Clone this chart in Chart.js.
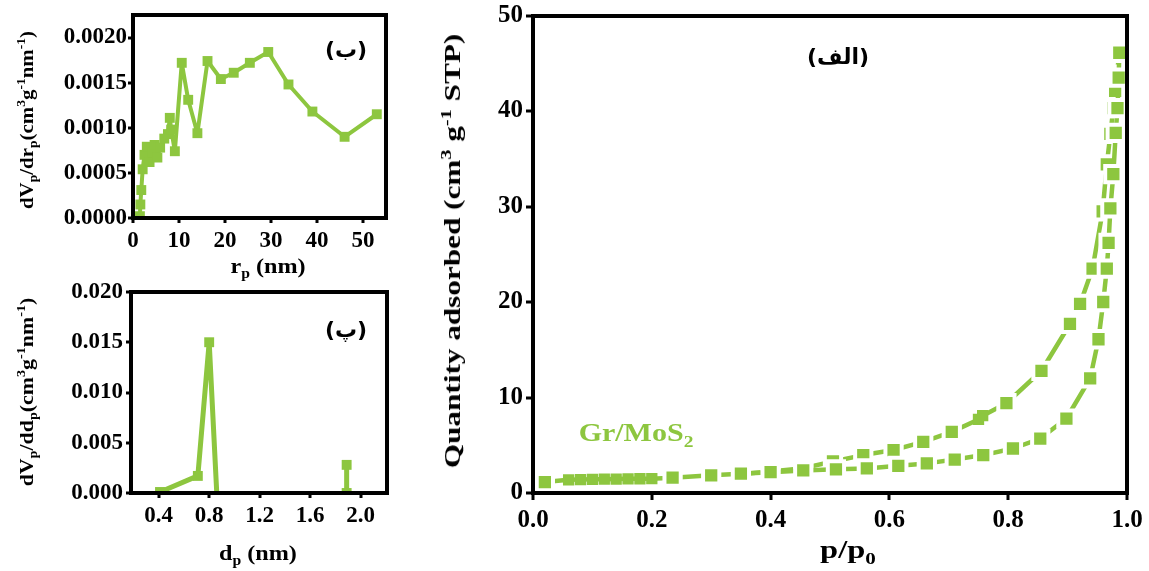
<!DOCTYPE html>
<html>
<head>
<meta charset="utf-8">
<script src="https://cdn.jsdelivr.net/npm/chart.js@4.4.1/dist/chart.umd.min.js"></script>
<style>
    body { margin: 0; background: #fff; width: 1149px; height: 571px; position: relative; overflow: hidden; }
    canvas { position: absolute; }
    .lbl { position: absolute; white-space: nowrap; font-family: "Times New Roman", "Liberation Serif", Times, serif; font-weight: bold; line-height: 1; color: #000; }
    .lbl sub, .lbl sup { font-size: 65%; line-height: 0; }
    .c { transform: translate(-50%, -50%) scaleX(var(--sx, 1)); }
    .rot { transform: translate(-50%, -50%) rotate(-90deg) scaleX(var(--sx, 1)); }
    .fa { font-family: "DejaVu Sans", sans-serif; }
</style>
</head>
<body>
<canvas id="rpChart" width="400" height="280" style="left:0;top:0"></canvas>
<canvas id="dpChart" width="400" height="291" style="left:0;top:280px"></canvas>
<canvas id="isoChart" width="729" height="571" style="left:420px;top:0"></canvas>

<div class="lbl rot" style="left:26px;top:120px;font-size:19px;--sx:1.1">dV<sub>p</sub>/dr<sub>p</sub>(cm<sup>3</sup>g<sup>-1</sup>nm<sup>-1</sup>)</div>
<div class="lbl c" style="left:268px;top:266px;font-size:21px;--sx:1.15">r<sub>p</sub> (nm)</div>
<div class="lbl c fa" style="left:346px;top:50px;font-size:22px">(ب)</div>

<div class="lbl rot" style="left:26px;top:392px;font-size:19px;--sx:1.15">dV<sub>p</sub>/dd<sub>p</sub>(cm<sup>3</sup>g<sup>-1</sup>nm<sup>-1</sup>)</div>
<div class="lbl c" style="left:258px;top:553px;font-size:21px;--sx:1.15">d<sub>p</sub> (nm)</div>
<div class="lbl c fa" style="left:346px;top:330px;font-size:22px">(پ)</div>

<div class="lbl rot" style="left:452px;top:251px;font-size:24px;--sx:1.3">Quantity adsorbed (cm<sup>3</sup> g<sup>-1</sup> STP)</div>
<div class="lbl c" style="left:848px;top:550px;font-size:26px;--sx:1.25">p/p<sub>0</sub></div>
<div class="lbl c fa" style="left:838px;top:57px;font-size:22px">(الف)</div>
<div class="lbl c" style="left:636px;top:432px;font-size:25px;--sx:1.2;color:#8dc63f">Gr/MoS<sub>2</sub></div>

<script>
const green = '#8dc63f';
const serif = '"Times New Roman", "Liberation Serif", Times, serif';

// (ب) pore radius distribution
const rpX = [1.5, 1.6, 1.8, 2.1, 2.5, 3.0, 3.6, 4.2, 4.7, 5.3, 5.9, 6.8, 7.6, 8.0, 8.3, 9.1, 10.6, 12.0, 14.0, 16.2,
    19.1, 21.9, 25.4, 29.4, 33.8, 39.0, 46.0, 53.0];
const rpY = [0.00002, 0.00015, 0.00031, 0.00054, 0.00070, 0.00079, 0.00062, 0.00073, 0.00081, 0.00067,
    0.00078, 0.00088, 0.00093, 0.00111, 0.00098, 0.00074, 0.00172, 0.00131, 0.00094, 0.00174,
    0.00154, 0.00161, 0.00172, 0.00184, 0.00148, 0.00118, 0.00090, 0.00115];
const rpXTicks = [0, 10, 20, 30, 40, 50];
const rpYTicks = [0, 0.0005, 0.001, 0.0015, 0.002];

// (پ) pore diameter distribution
const dpX = [0.41, 0.71, 0.80, 0.86, 1.89, 1.89];
const dpY = [0.0001, 0.0017, 0.0150, 0, 0, 0.0028];
const dpXTicks = [0.4, 0.8, 1.2, 1.6, 2.0];
const dpYTicks = [0, 0.005, 0.01, 0.015, 0.02];

// (الف) isotherm, adsorption + desorption
const adsP = [0.02, 0.06, 0.08, 0.10, 0.12, 0.14, 0.16, 0.18, 0.20, 0.235, 0.30, 0.35, 0.40, 0.455, 0.51,
    0.562, 0.615, 0.663, 0.71, 0.758, 0.808, 0.854, 0.898, 0.938, 0.952, 0.96, 0.966,
    0.969, 0.972, 0.977, 0.981, 0.984, 0.986, 0.987];
const adsQ = [1.15, 1.38, 1.41, 1.43, 1.45, 1.46, 1.48, 1.49, 1.50, 1.60, 1.85, 2.02, 2.18, 2.36, 2.48,
    2.57, 2.85, 3.10, 3.50, 3.97, 4.66, 5.70, 7.80, 12.0, 16.1, 20.0, 23.5,
    26.2, 29.8, 33.4, 37.7, 40.3, 43.5, 46.1];
const desP = [0.987, 0.983, 0.980, 0.977, 0.972, 0.966, 0.959, 0.942, 0.921, 0.904,
    0.856, 0.797, 0.757, 0.750, 0.705, 0.657, 0.607, 0.556, 0.505, 0.455, 0.40, 0.35];
const desQ = [46.1, 43.8, 42.1, 40.3, 37.6, 34.4, 29.5, 23.5, 19.8, 17.7,
    12.8, 9.4, 8.1, 7.7, 6.4, 5.35, 4.5, 3.97, 3.3, 2.6, 2.25, 2.0];
const isoXTicks = [0, 0.2, 0.4, 0.6, 0.8, 1.0];
const isoYTicks = [0, 10, 20, 30, 40, 50];

const pts = (xs, ys) => xs.map((x, i) => ({ x, y: ys[i] }));

function boxScales(o) {
    const tickFont = { family: serif, weight: 'bold', size: o.font };
    const border = { display: true, color: '#000', width: o.bw, z: 1 };
    const marks = { display: true, drawOnChartArea: false, drawTicks: true, tickLength: o.tick, tickWidth: 3, lineWidth: o.bw, color: '#000' };
    const hidden = { display: false, lineWidth: o.bw };
    return {
        x: {
            type: 'linear', position: 'bottom', min: o.xMin, max: o.xMax,
            afterBuildTicks: s => { s.ticks = o.xTicks.map(value => ({ value })); },
            afterFit: s => { s.height = o.bottom; s.paddingLeft = 0; s.paddingRight = 0; },
            ticks: { color: '#000', font: tickFont, padding: o.xPad, maxRotation: 0, autoSkip: false, callback: o.xFmt },
            grid: marks, border
        },
        y: {
            type: 'linear', position: 'left', min: o.yMin, max: o.yMax,
            afterBuildTicks: s => { s.ticks = o.yTicks.map(value => ({ value })); },
            afterFit: s => { s.width = o.left; s.paddingTop = 0; s.paddingBottom = 0; },
            ticks: { color: '#000', font: tickFont, padding: o.yPad, autoSkip: false, callback: o.yFmt },
            grid: marks, border
        },
        x2: {
            type: 'linear', position: 'top', min: o.xMin, max: o.xMax,
            afterFit: s => { s.height = 0; s.paddingLeft = 0; s.paddingRight = 0; },
            ticks: { display: false }, grid: hidden, border
        },
        y2: {
            type: 'linear', position: 'right', min: o.yMin, max: o.yMax,
            afterFit: s => { s.width = 0; s.paddingTop = 0; s.paddingBottom = 0; },
            ticks: { display: false }, grid: hidden, border
        }
    };
}

const common = {
    responsive: false,
    animation: false,
    plugins: { legend: { display: false }, tooltip: { enabled: false } }
};

new Chart(document.getElementById('rpChart'), {
    type: 'line',
    data: {
        datasets: [{
            data: pts(rpX, rpY), borderColor: green, backgroundColor: green, borderWidth: 4, borderJoinStyle: 'round',
            pointStyle: 'rect', pointRadius: 7, pointBorderWidth: 0, pointBackgroundColor: green, tension: 0
        }]
    },
    options: {
        ...common,
        layout: { padding: { top: 15, right: 14, left: 0, bottom: 0 } },
        scales: boxScales({
            xMin: 0, xMax: 55, yMin: 0, yMax: 0.00225, xTicks: rpXTicks, yTicks: rpYTicks,
            xFmt: v => v.toFixed(0), yFmt: v => v.toFixed(4),
            left: 133, bottom: 62, font: 23, bw: 4, tick: 5, xPad: 4, yPad: 1
        })
    }
});

new Chart(document.getElementById('dpChart'), {
    type: 'line',
    data: {
        datasets: [{
            data: pts(dpX, dpY), borderColor: green, backgroundColor: green, borderWidth: 5, borderJoinStyle: 'round',
            pointStyle: 'rect', pointRadius: [7, 7, 7, 0, 7, 7], pointBorderWidth: 0, pointBackgroundColor: green, tension: 0,
            segment: { borderColor: s => (s.p0.parsed.y === 0 && s.p1.parsed.y === 0) ? 'rgba(0,0,0,0)' : green }
        }]
    },
    options: {
        ...common,
        layout: { padding: { top: 12, right: 13, left: 0, bottom: 0 } },
        scales: boxScales({
            xMin: 0.18, xMax: 2.21, yMin: 0, yMax: 0.02, xTicks: dpXTicks, yTicks: dpYTicks,
            xFmt: v => v.toFixed(1), yFmt: v => v.toFixed(3),
            left: 131, bottom: 78, font: 23, bw: 4, tick: 5, xPad: 4, yPad: 3
        })
    }
});

// crowded markers are drawn plain, isolated ones get a white ring (gap to line)
function crowded(ctx) {
    const d = ctx.dataset.data, i = ctx.dataIndex, a = d[i];
    if (!a) return false;
    return [d[i - 1], d[i + 1]].some(b => b && Math.abs(b.x - a.x) < 0.025 && Math.abs(b.y - a.y) < 0.6);
}

const isoSet = data => ({
    data, borderColor: green, backgroundColor: green, borderWidth: 4.5, borderJoinStyle: 'round', tension: 0,
    pointStyle: 'rect', pointBackgroundColor: green,
    pointRadius: ctx => crowded(ctx) ? 8 : 11.5,
    pointBorderWidth: ctx => crowded(ctx) ? 0 : 4,
    pointBorderColor: '#fff'
});

new Chart(document.getElementById('isoChart'), {
    type: 'line',
    data: { datasets: [isoSet(pts(adsP, adsQ)), isoSet(pts(desP, desQ))] },
    options: {
        ...common,
        layout: { padding: { top: 14, right: 22, left: 0, bottom: 0 } },
        scales: boxScales({
            xMin: 0, xMax: 1, yMin: 0, yMax: 50, xTicks: isoXTicks, yTicks: isoYTicks,
            xFmt: v => v.toFixed(1), yFmt: v => v.toFixed(0),
            left: 113, bottom: 78, font: 25, bw: 4, tick: 7, xPad: 6, yPad: 3
        })
    }
});
</script>
</body>
</html>
